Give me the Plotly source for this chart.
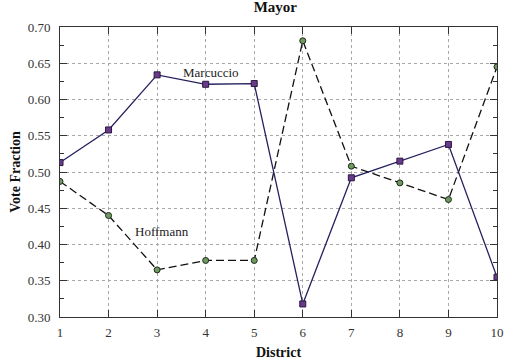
import plotly.graph_objects as go

districts = [1, 2, 3, 4, 5, 6, 7, 8, 9, 10]
marcuccio = [0.513, 0.558, 0.634, 0.621, 0.622, 0.318, 0.492, 0.515, 0.538, 0.355]
hoffmann = [0.487, 0.440, 0.365, 0.378, 0.378, 0.681, 0.508, 0.485, 0.462, 0.645]
y_ticks = [0.30, 0.35, 0.40, 0.45, 0.50, 0.55, 0.60, 0.65, 0.70]

font_family = "Liberation Serif, Times New Roman, serif"

fig = go.Figure()
fig.add_trace(go.Scatter(
    x=districts, y=hoffmann, mode="lines+markers", name="Hoffmann",
    line=dict(color="#111111", width=1.3, dash="8px,4px"),
    marker=dict(symbol="circle", size=6, color="#6f9a5f",
                line=dict(color="#1c2a1a", width=1)),
))
fig.add_trace(go.Scatter(
    x=districts, y=marcuccio, mode="lines+markers", name="Marcuccio",
    line=dict(color="#23205e", width=1.3),
    marker=dict(symbol="square", size=6, color="#6a3a8a",
                line=dict(color="#2a1640", width=1)),
))

fig.add_annotation(x=4.11, y=0.637, text="Marcuccio", showarrow=False,
                   font=dict(family=font_family, size=13, color="#222222"))
fig.add_annotation(x=3.11, y=0.418, text="Hoffmann", showarrow=False,
                   font=dict(family=font_family, size=13, color="#222222"))

fig.update_layout(
    width=507, height=364,
    margin=dict(l=60, r=10, t=27, b=47),
    paper_bgcolor="white", plot_bgcolor="white",
    showlegend=False,
    font=dict(family=font_family, size=13, color="#222222"),
    title=dict(text="<b>Mayor</b>", x=0.543, xanchor="center", y=0.997, yanchor="top",
               font=dict(family=font_family, size=15, color="#111111")),
    xaxis=dict(
        range=[1, 10], tickvals=districts, ticktext=[str(d) for d in districts],
        ticks="inside", ticklen=7, tickcolor="#333333", mirror="allticks",
        showline=True, linecolor="#333333", linewidth=1,
        showgrid=True, gridcolor="#a8a8a8", griddash="3px,3px", gridwidth=1,
        zeroline=False, automargin=False, ticklabelstandoff=3,
        title=dict(text="<b>District</b>", standoff=8,
                   font=dict(family=font_family, size=14, color="#111111")),
        tickfont=dict(family=font_family, size=13, color="#333333"),
    ),
    yaxis=dict(
        range=[0.30, 0.70], tickvals=y_ticks, ticktext=[f"{v:.2f}" for v in y_ticks],
        ticks="inside", ticklen=7, tickcolor="#333333", mirror="allticks",
        showline=True, linecolor="#333333", linewidth=1,
        showgrid=True, gridcolor="#a8a8a8", griddash="3px,3px", gridwidth=1,
        zeroline=False, automargin=False, ticklabelstandoff=6,
        minor=dict(dtick=0.025, tick0=0.3, ticks="inside", ticklen=4, tickcolor="#333333", showgrid=False),
        title=dict(text="<b>Vote Fraction</b>", standoff=3,
                   font=dict(family=font_family, size=14, color="#111111")),
        tickfont=dict(family=font_family, size=13, color="#333333"),
    ),
)

fig.write_html("out.html", config={"displayModeBar": False},
               post_script="document.body.style.margin='0px';document.body.style.overflow='hidden';")
